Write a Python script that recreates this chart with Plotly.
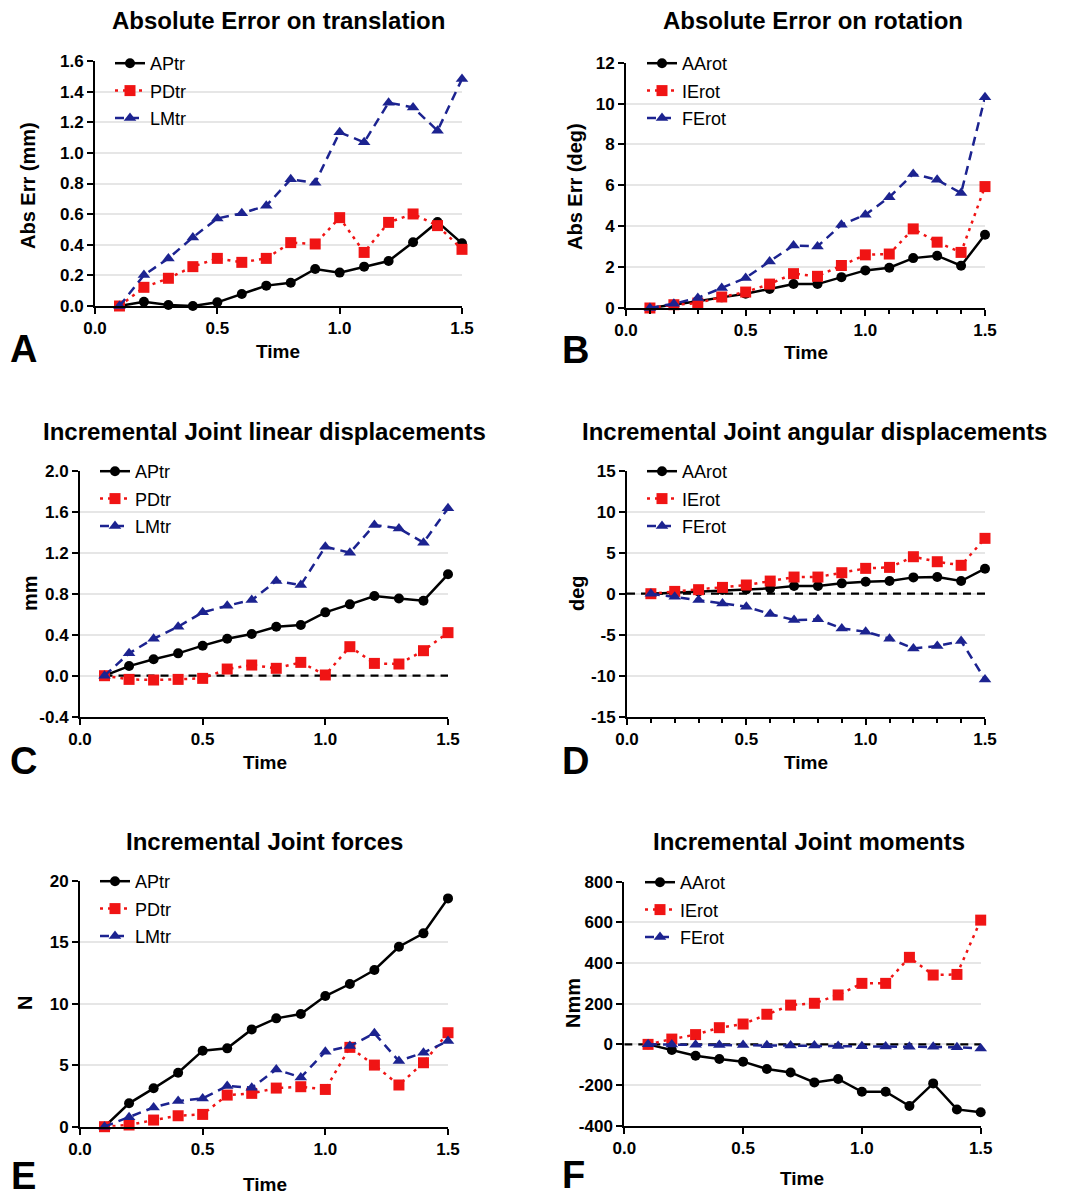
import plotly.graph_objects as go

W, H = 1068, 1198
OFF = 8  # default page body margin of the html page
FONT = "Liberation Sans, Arial, sans-serif"

# ---------------- data ----------------
time = [0.1, 0.2, 0.3, 0.4, 0.5, 0.6, 0.7, 0.8, 0.9, 1.0, 1.1, 1.2, 1.3, 1.4, 1.5]

trans_names = ["APtr", "PDtr", "LMtr"]
rot_names = ["AArot", "IErot", "FErot"]

# A: Absolute error on translation (mm)
A_APtr = [0, 0.028, 0.007, 0.0, 0.024, 0.078, 0.133, 0.152, 0.242, 0.218, 0.257, 0.294, 0.416, 0.549, 0.409]
A_PDtr = [0, 0.122, 0.181, 0.257, 0.311, 0.285, 0.311, 0.414, 0.405, 0.577, 0.350, 0.546, 0.601, 0.525, 0.370]
A_LMtr = [0, 0.202, 0.311, 0.448, 0.572, 0.605, 0.655, 0.827, 0.805, 1.134, 1.069, 1.328, 1.297, 1.145, 1.482]

# B: Absolute error on rotation (deg)
B_AArot = [0, 0.16, 0.33, 0.52, 0.70, 0.93, 1.17, 1.17, 1.51, 1.84, 1.97, 2.44, 2.56, 2.07, 3.58]
B_IErot = [0, 0.16, 0.24, 0.54, 0.78, 1.17, 1.68, 1.55, 2.08, 2.60, 2.64, 3.87, 3.22, 2.72, 5.94]
B_FErot = [0, 0.21, 0.49, 0.98, 1.47, 2.28, 3.06, 3.01, 4.07, 4.56, 5.42, 6.56, 6.27, 5.62, 10.31]

# C: Incremental joint linear displacements (mm)
C_APtr = [0, 0.094, 0.160, 0.218, 0.293, 0.361, 0.407, 0.478, 0.494, 0.618, 0.696, 0.777, 0.754, 0.732, 0.989]
C_PDtr = [0, -0.036, -0.042, -0.036, -0.026, 0.065, 0.104, 0.072, 0.130, 0.007, 0.283, 0.120, 0.114, 0.244, 0.420]
C_LMtr = [0, 0.218, 0.361, 0.478, 0.618, 0.683, 0.738, 0.924, 0.885, 1.259, 1.200, 1.470, 1.437, 1.298, 1.633]

# D: Incremental joint angular displacements (deg)
D_AArot = [0, 0.12, 0.28, 0.45, 0.53, 0.65, 0.93, 0.93, 1.26, 1.46, 1.54, 1.99, 2.03, 1.54, 3.05]
D_IErot = [0, 0.28, 0.49, 0.77, 1.06, 1.54, 2.03, 2.03, 2.56, 3.09, 3.21, 4.51, 3.90, 3.46, 6.75]
D_FErot = [0, -0.37, -0.77, -1.18, -1.59, -2.48, -3.21, -3.13, -4.23, -4.63, -5.49, -6.67, -6.38, -5.77, -10.45]

# E: Incremental joint forces (N)
E_APtr = [0, 1.90, 3.12, 4.39, 6.18, 6.37, 7.91, 8.81, 9.16, 10.62, 11.60, 12.74, 14.63, 15.72, 18.56]
E_PDtr = [0, 0.14, 0.54, 0.89, 1.00, 2.57, 2.71, 3.14, 3.25, 3.03, 6.45, 5.01, 3.39, 5.20, 7.64]
E_LMtr = [0, 0.76, 1.57, 2.09, 2.30, 3.31, 3.17, 4.66, 4.01, 6.10, 6.56, 7.59, 5.34, 6.02, 6.96]

# F: Incremental joint moments (Nmm)
F_AArot = [0, -28, -56, -72, -85, -121, -138, -187, -170, -233, -233, -303, -192, -320, -334]
F_IErot = [0, 26, 48, 82, 100, 148, 193, 202, 243, 300, 300, 428, 341, 344, 611]
F_FErot = [0, -1, -2, -3, -3, -4, -5, -6, -8, -9, -10, -12, -12, -14, -20]

# tick labels
x_ticks = [0.0, 0.5, 1.0, 1.5]
x_ticklabels = ["0.0", "0.5", "1.0", "1.5"]
A_yticks = [0.0, 0.2, 0.4, 0.6, 0.8, 1.0, 1.2, 1.4, 1.6]
A_yticklabels = ["0.0", "0.2", "0.4", "0.6", "0.8", "1.0", "1.2", "1.4", "1.6"]
B_yticks = [0, 2, 4, 6, 8, 10, 12]
B_yticklabels = ["0", "2", "4", "6", "8", "10", "12"]
C_yticks = [-0.4, 0.0, 0.4, 0.8, 1.2, 1.6, 2.0]
C_yticklabels = ["-0.4", "0.0", "0.4", "0.8", "1.2", "1.6", "2.0"]
D_yticks = [-15, -10, -5, 0, 5, 10, 15]
D_yticklabels = ["-15", "-10", "-5", "0", "5", "10", "15"]
E_yticks = [0, 5, 10, 15, 20]
E_yticklabels = ["0", "5", "10", "15", "20"]
F_yticks = [-400, -200, 0, 200, 400, 600, 800]
F_yticklabels = ["-400", "-200", "0", "200", "400", "600", "800"]

titles = ["Absolute Error on translation", "Absolute Error on rotation",
          "Incremental Joint linear displacements", "Incremental Joint angular displacements",
          "Incremental Joint forces", "Incremental Joint moments"]
y_titles = ["Abs Err (mm)", "Abs Err (deg)", "mm", "deg", "N", "Nmm"]
letters = ["A", "B", "C", "D", "E", "F"]

# ---------------- layout helpers (screen pixels -> paper) ----------------
def fx(px):
    return (px - OFF) / W

def fy(py):
    return 1 - (py - OFF) / H

panels = [
    dict(series=[A_APtr, A_PDtr, A_LMtr], names=trans_names, yt=A_yticks, ytl=A_yticklabels,
         xpx=(95, 462), ypx=(61, 306), title=(278, 21), xt=(278, 352), yl=(28, 186), letter=(23, 349),
         leg=(110, 45), zero=None, minor=False),
    dict(series=[B_AArot, B_IErot, B_FErot], names=rot_names, yt=B_yticks, ytl=B_yticklabels,
         xpx=(626, 985), ypx=(62.7, 308), title=(813, 21), xt=(806, 353), yl=(575, 187), letter=(575, 350),
         leg=(642, 45), zero=None, minor=True),
    dict(series=[C_APtr, C_PDtr, C_LMtr], names=trans_names, yt=C_yticks, ytl=C_yticklabels,
         xpx=(80, 448), ypx=(470.7, 716.7), title=(264, 432), xt=(265, 762), yl=(30, 593), letter=(23, 761),
         leg=(95, 453), zero=0.1, minor=False),
    dict(series=[D_AArot, D_IErot, D_FErot], names=rot_names, yt=D_yticks, ytl=D_yticklabels,
         xpx=(627, 985), ypx=(470.7, 716.7), title=(814, 432), xt=(806, 762), yl=(577, 593), letter=(575, 761),
         leg=(642, 453), zero=0.0, minor=True),
    dict(series=[E_APtr, E_PDtr, E_LMtr], names=trans_names, yt=E_yticks, ytl=E_yticklabels,
         xpx=(80, 448), ypx=(880.7, 1126.7), title=(264, 841), xt=(265, 1184), yl=(25, 1003), letter=(23, 1176),
         leg=(95, 863), zero=None, minor=False),
    dict(series=[F_AArot, F_IErot, F_FErot], names=rot_names, yt=F_yticks, ytl=F_yticklabels,
         xpx=(624.3, 980.7), ypx=(881.7, 1125.7), title=(809, 841), xt=(802, 1178), yl=(573, 1003), letter=(573, 1175),
         leg=(640, 864), zero=0.0, minor=False),
]

RED = "#f01414"
BLUE = "#1c2390"
styles = [
    dict(color="black", dash="solid", symbol="circle", size=10),
    dict(color=RED, dash="3px,5px", symbol="square", size=11),
    dict(color=BLUE, dash="9px,6px", symbol="triangle-up", size=11),
]

fig = go.Figure()
annotations = []
shapes = []

for i, p in enumerate(panels):
    n = i + 1
    xa = "x" if n == 1 else f"x{n}"
    ya = "y" if n == 1 else f"y{n}"
    leg = "legend" if n == 1 else f"legend{n}"
    for j, (vals, name) in enumerate(zip(p["series"], p["names"])):
        st = styles[j]
        fig.add_trace(go.Scatter(
            x=time, y=vals, name=name, mode="lines+markers",
            xaxis=xa, yaxis=ya, legend=leg, legendgroup=f"{letters[i]}{j}",
            line=dict(color=st["color"], dash=st["dash"], width=2.5),
            marker=dict(symbol=st["symbol"], size=st["size"], color=st["color"]),
            cliponaxis=False,
        ))
    xkey = "xaxis" if n == 1 else f"xaxis{n}"
    ykey = "yaxis" if n == 1 else f"yaxis{n}"
    axis_common = dict(showline=True, linecolor="black", linewidth=2, ticks="outside",
                       ticklen=6, tickwidth=2, tickcolor="black", automargin=False,
                       tickfont=dict(family=FONT, size=17, color="black", weight="bold"))
    xdict = dict(domain=[fx(p["xpx"][0]), fx(p["xpx"][1])], range=[0, 1.5], anchor=ya,
                 tickvals=x_ticks, ticktext=x_ticklabels, showgrid=False, zeroline=False, **axis_common)
    if p["minor"]:
        xdict["minor"] = dict(tickmode="array", tickvals=time, ticks="outside", ticklen=4,
                              tickwidth=2, tickcolor="black", showgrid=False)
    ydict = dict(domain=[fy(p["ypx"][1]), fy(p["ypx"][0])], range=[p["yt"][0], p["yt"][-1]], anchor=xa,
                 tickvals=p["yt"], ticktext=p["ytl"], showgrid=True, gridcolor="#e6e6e6", gridwidth=1.5,
                 zeroline=False, **axis_common)
    fig.layout[xkey] = xdict
    fig.layout[ykey] = ydict
    fig.layout[leg] = dict(x=fx(p["leg"][0]), y=fy(p["leg"][1]), xanchor="left", yanchor="top",
                           bgcolor="rgba(0,0,0,0)", font=dict(family=FONT, size=18, color="black"),
                           traceorder="grouped", tracegroupgap=1)
    if p["zero"] is not None:
        shapes.append(dict(type="line", xref=xa, yref=ya, x0=p["zero"], x1=1.5, y0=0, y1=0,
                           line=dict(color="black", width=2.2, dash="8px,6px"), layer="between"))
    annotations.append(dict(text=f"<b>{titles[i]}</b>", x=fx(p["title"][0]), y=fy(p["title"][1]),
                            xref="paper", yref="paper", xanchor="center", yanchor="middle", showarrow=False,
                            font=dict(family=FONT, size=24, color="black")))
    annotations.append(dict(text="<b>Time</b>", x=fx(p["xt"][0]), y=fy(p["xt"][1]),
                            xref="paper", yref="paper", xanchor="center", yanchor="middle", showarrow=False,
                            font=dict(family=FONT, size=19, color="black")))
    annotations.append(dict(text=f"<b>{y_titles[i]}</b>", x=fx(p["yl"][0]), y=fy(p["yl"][1]),
                            xref="paper", yref="paper", xanchor="center", yanchor="middle", showarrow=False,
                            textangle=-90, font=dict(family=FONT, size=20, color="black")))
    annotations.append(dict(text=f"<b>{letters[i]}</b>", x=fx(p["letter"][0]), y=fy(p["letter"][1]),
                            xref="paper", yref="paper", xanchor="center", yanchor="middle", showarrow=False,
                            font=dict(family=FONT, size=38, color="black")))

fig.update_layout(template="none", width=W, height=H,
                  margin=dict(l=0, r=0, t=0, b=0, autoexpand=False),
                  paper_bgcolor="white", plot_bgcolor="white",
                  annotations=annotations, shapes=shapes,
                  font=dict(family=FONT, color="black"))

fig.write_html("out.html")
